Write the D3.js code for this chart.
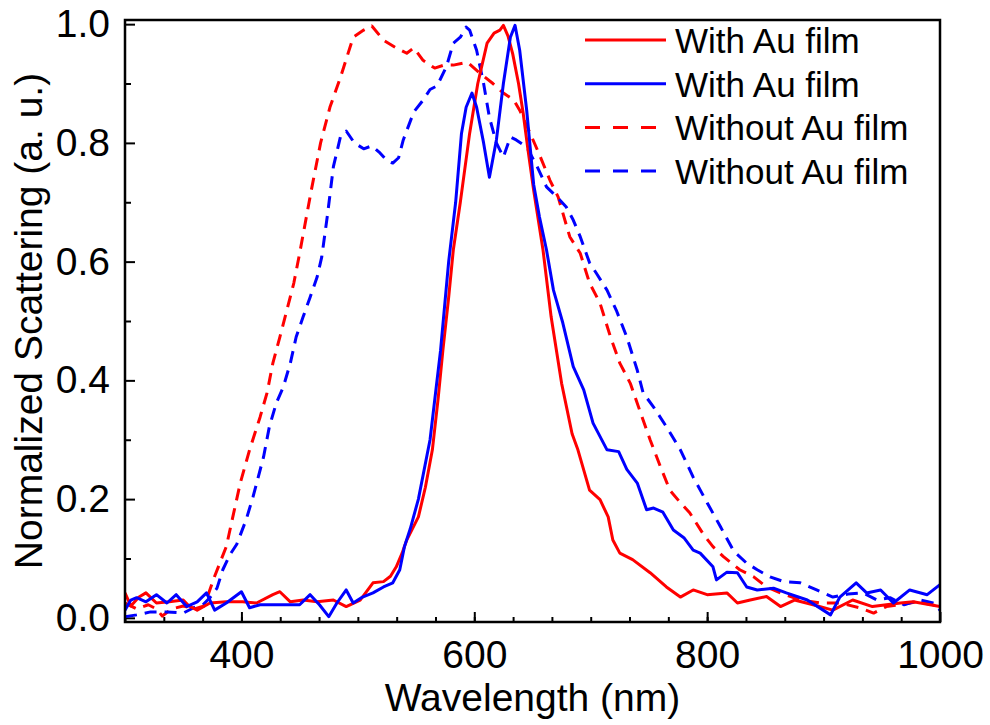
<!DOCTYPE html>
<html>
<head>
<meta charset="utf-8">
<script src="https://cdn.jsdelivr.net/npm/d3@7"></script>
<style>
  body { margin: 0; background: #fff; }
  svg { display: block; font-family: "Liberation Sans", Arial, sans-serif; }
</style>
</head>
<body>
<div id="chart"></div>
<script>
// spectra: [wavelength (nm), normalized scattering]
var withAuRed = [[300,0.042],[305,0.02],[312,0.035],[318,0.042],[327,0.025],[338,0.027],[350,0.03],[355,0.02],[362,0.013],[373,0.025],[387,0.027],[401,0.027],[413,0.025],[427,0.039],[433,0.044],[442,0.027],[453,0.03],[465,0.027],[479,0.03],[490,0.019],[502,0.03],[513,0.059],[522,0.061],[528,0.07],[533,0.086],[538,0.109],[542,0.131],[552,0.17],[558,0.22],[564,0.283],[569,0.37],[573,0.45],[578,0.54],[582,0.62],[588,0.70],[596,0.816],[603,0.90],[611,0.968],[617,0.985],[622,0.99],[625,0.998],[629,0.98],[633,0.95],[638,0.90],[642,0.85],[646,0.79],[651,0.72],[659,0.62],[666,0.507],[675,0.395],[684,0.31],[689,0.283],[699,0.215],[708,0.199],[715,0.17],[719,0.131],[725,0.109],[736,0.098],[751,0.076],[765,0.052],[777,0.035],[788,0.047],[800,0.039],[817,0.042],[826,0.025],[837,0.03],[851,0.036],[863,0.019],[875,0.03],[891,0.022],[908,0.013],[925,0.03],[942,0.019],[966,0.025],[977,0.027],[1000,0.019]];

var withAuBlue = [[300,0.013],[305,0.03],[310,0.034],[318,0.027],[327,0.039],[336,0.025],[344,0.039],[353,0.019],[362,0.027],[370,0.042],[377,0.013],[387,0.025],[400,0.044],[407,0.017],[416,0.022],[427,0.022],[439,0.022],[450,0.022],[459,0.039],[467,0.022],[475,0.002],[482,0.025],[490,0.047],[496,0.025],[504,0.035],[513,0.042],[522,0.052],[530,0.059],[536,0.081],[540,0.12],[545,0.15],[552,0.2],[562,0.3],[571,0.45],[578,0.6],[584,0.70],[589,0.816],[593,0.86],[598,0.884],[602,0.86],[608,0.80],[613,0.742],[619,0.805],[625,0.90],[631,0.978],[635,0.998],[639,0.956],[645,0.855],[651,0.73],[656,0.675],[662,0.62],[668,0.552],[676,0.497],[685,0.423],[694,0.384],[702,0.328],[714,0.283],[724,0.28],[731,0.25],[740,0.227],[748,0.182],[754,0.185],[762,0.178],[771,0.148],[780,0.135],[788,0.114],[794,0.109],[805,0.086],[808,0.064],[817,0.077],[826,0.076],[834,0.052],[843,0.047],[857,0.05],[868,0.042],[886,0.03],[906,0.005],[914,0.035],[928,0.059],[937,0.042],[949,0.047],[960,0.025],[974,0.047],[989,0.039],[1000,0.056]];

var withoutAuRed = [[300,0.025],[310,0.015],[320,0.022],[327,0.015],[332,0.003],[340,0.015],[350,0.02],[360,0.015],[368,0.02],[377,0.07],[387,0.12],[399,0.227],[407,0.283],[416,0.338],[422,0.379],[427,0.429],[433,0.473],[439,0.518],[445,0.564],[450,0.614],[460,0.72],[468,0.80],[476,0.86],[485,0.91],[496,0.978],[505,0.99],[512,0.997],[522,0.973],[533,0.96],[542,0.951],[548,0.96],[556,0.939],[566,0.926],[574,0.931],[582,0.931],[594,0.936],[605,0.917],[616,0.90],[625,0.884],[634,0.872],[639,0.855],[648,0.816],[656,0.78],[665,0.737],[672,0.709],[682,0.642],[691,0.614],[699,0.564],[708,0.53],[717,0.473],[725,0.429],[734,0.395],[742,0.35],[751,0.30],[760,0.254],[768,0.215],[777,0.194],[785,0.177],[797,0.14],[805,0.12],[814,0.103],[828,0.081],[840,0.069],[851,0.052],[863,0.042],[880,0.03],[897,0.025],[914,0.025],[931,0.017],[943,0.008],[954,0.019],[966,0.022],[980,0.027],[994,0.022],[1000,0.017]];

var withoutAuBlue = [[300,0.002],[310,0.005],[322,0.01],[336,0.01],[350,0.008],[359,0.017],[367,0.022],[373,0.034],[379,0.05],[384,0.081],[390,0.106],[396,0.124],[404,0.165],[410,0.204],[419,0.271],[424,0.322],[430,0.362],[436,0.389],[442,0.429],[447,0.473],[453,0.507],[459,0.54],[465,0.574],[469,0.608],[474,0.68],[479,0.76],[485,0.81],[490,0.82],[497,0.80],[505,0.79],[512,0.795],[519,0.783],[525,0.77],[530,0.766],[535,0.775],[539,0.805],[548,0.852],[556,0.872],[562,0.89],[568,0.896],[576,0.928],[582,0.968],[588,0.978],[593,0.995],[596,0.99],[602,0.956],[608,0.90],[613,0.843],[619,0.80],[625,0.776],[631,0.81],[636,0.805],[645,0.793],[654,0.76],[662,0.726],[671,0.709],[679,0.692],[685,0.67],[691,0.642],[699,0.598],[705,0.58],[714,0.552],[722,0.518],[731,0.473],[740,0.417],[745,0.379],[754,0.355],[765,0.322],[777,0.283],[788,0.237],[800,0.194],[811,0.155],[823,0.112],[834,0.092],[843,0.081],[854,0.069],[866,0.061],[880,0.059],[894,0.047],[908,0.035],[921,0.04],[934,0.042],[946,0.03],[957,0.034],[969,0.022],[983,0.03],[994,0.025],[1000,0.013]];

var legendLabels = ["With Au film", "With Au film", "Without Au film", "Without Au film"];
var xTicks = [400, 600, 800, 1000];
var yTicks = [0, 0.2, 0.4, 0.6, 0.8, 1.0];

// set the dimensions and margins of the graph
var margin = {top: 20, right: 50, bottom: 103, left: 125},
    width = 990 - margin.left - margin.right,
    height = 725 - margin.top - margin.bottom;

var svg = d3.select("#chart")
    .append("svg")
    .attr("width", 990)
    .attr("height", 725);

var g = svg.append("g")
    .attr("transform", "translate(" + margin.left + "," + margin.top + ")");

var x = d3.scaleLinear().domain([300, 1000]).range([0, width]);
var y = d3.scaleLinear().domain([-0.007, 1.007]).range([height, 0]);

g.append("clipPath").attr("id", "clip")
    .append("rect").attr("width", width).attr("height", height);

// minor ticks (every 200/6 nm on x, 0.1 on y)
var xMinor = d3.range(0, 22).map(function(i) { return 300 + i * 200 / 6; })
    .filter(function(v) { return v < 999; });
var yMinor = [0.1, 0.3, 0.5, 0.7, 0.9];

g.append("g")
    .attr("class", "axis")
    .attr("transform", "translate(0," + height + ")")
    .call(d3.axisBottom(x).tickValues(xMinor).tickSize(-5).tickFormat(""));
g.append("g")
    .attr("class", "axis")
    .call(d3.axisLeft(y).tickValues(yMinor).tickSize(-6).tickFormat(""));

var xAxis = g.append("g")
    .attr("class", "axis")
    .attr("transform", "translate(0," + height + ")")
    .call(d3.axisBottom(x).tickValues(xTicks).tickSize(-10).tickPadding(18).tickFormat(d3.format("d")));
var yAxis = g.append("g")
    .attr("class", "axis")
    .call(d3.axisLeft(y).tickValues(yTicks).tickSize(-10).tickPadding(15).tickFormat(d3.format(".1f")));

g.selectAll(".axis .domain").remove();
g.selectAll(".axis line").attr("stroke", "#000").attr("stroke-width", 2);
g.selectAll(".axis text")
    .attr("fill", "#000")
    .style("font-size", "39px")
    .style("font-family", "'Liberation Sans', Arial, sans-serif");

// curves
var line = d3.line()
    .x(function(d) { return x(d[0]); })
    .y(function(d) { return y(d[1]); });

var series = [
  {data: withoutAuRed, color: "#ff0000", dash: "12,8"},
  {data: withoutAuBlue, color: "#0000ff", dash: "12,8"},
  {data: withAuRed, color: "#ff0000", dash: null},
  {data: withAuBlue, color: "#0000ff", dash: null}
];

var plot = g.append("g").attr("clip-path", "url(#clip)");
series.forEach(function(s) {
  plot.append("path")
      .datum(s.data)
      .attr("fill", "none")
      .attr("stroke", s.color)
      .attr("stroke-width", 3)
      .attr("stroke-linejoin", "round")
      .attr("stroke-dasharray", s.dash)
      .attr("d", line);
});

// frame
g.append("rect")
    .attr("width", width)
    .attr("height", height)
    .attr("fill", "none")
    .attr("stroke", "#000")
    .attr("stroke-width", 2.5);

// legend
var legendStyle = [
  {color: "#ff0000", dash: null},
  {color: "#0000ff", dash: null},
  {color: "#ff0000", dash: "15,13"},
  {color: "#0000ff", dash: "15,13"}
];
var legend = svg.append("g");
legendLabels.forEach(function(label, i) {
  var ly = 40 + i * 43.7;
  legend.append("line")
      .attr("x1", 585).attr("x2", 666)
      .attr("y1", ly).attr("y2", ly)
      .attr("stroke", legendStyle[i].color)
      .attr("stroke-width", 3)
      .attr("stroke-dasharray", legendStyle[i].dash);
  legend.append("text")
      .attr("x", 675)
      .attr("y", ly + 13)
      .style("font-size", "35px")
      .text(label);
});

// axis titles
svg.append("text")
    .attr("x", margin.left + width / 2)
    .attr("y", 711)
    .attr("text-anchor", "middle")
    .style("font-size", "39px")
    .text("Wavelength (nm)");

svg.append("text")
    .attr("transform", "translate(42," + (margin.top + height / 2) + ") rotate(-90)")
    .attr("text-anchor", "middle")
    .style("font-size", "39px")
    .text("Normalized Scattering (a. u.)");
</script>
</body>
</html>
